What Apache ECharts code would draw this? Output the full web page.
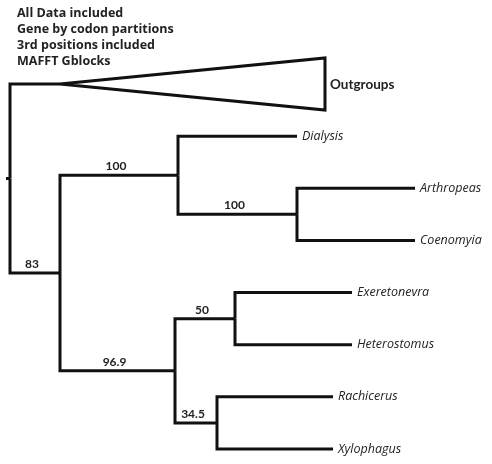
<!DOCTYPE html>
<html>
<head>
<meta charset="utf-8">
<script src="https://cdn.jsdelivr.net/npm/echarts@6/dist/echarts.min.js"></script>
<style>
  html, body { margin: 0; padding: 0; background: #ffffff; }
  #chart { width: 492px; height: 464px; }
</style>
</head>
<body>
<div id="chart"></div>
<script>
// Analysis settings shown as a heading
const headingLines = ['All Data included', 'Gene by codon partitions', '3rd positions included', 'MAFFT Gblocks'];

// Tree topology: each node, its parent, branch length and bootstrap support
const nodeNames     = ['root', 'Outgroups', 'n83', 'n100a', 'Dialysis', 'n100b', 'Arthropeas', 'Coenomyia',
                       'n96.9', 'n50', 'Exeretonevra', 'Heterostomus', 'n34.5', 'Rachicerus', 'Xylophagus'];
const parentNames   = [null, 'root', 'root', 'n83', 'n100a', 'n100a', 'n100b', 'n100b',
                       'n83', 'n96.9', 'n50', 'n50', 'n96.9', 'n34.5', 'n34.5'];
const branchLengths = [4, 50, 50, 118, 119, 119, 118, 118,
                       115, 60, 117, 117, 42, 116, 116];
const supportValues = [null, null, '83', '100', null, '100', null, null,
                       '96.9', '50', null, null, '34.5', null, null];
// Tips in drawing order, top to bottom
const tipOrder = ['Outgroups', 'Dialysis', 'Arthropeas', 'Coenomyia', 'Exeretonevra', 'Heterostomus', 'Rachicerus', 'Xylophagus'];
// Collapsed clades: depth of the triangle beyond its stem
const collapsedNames  = ['Outgroups'];
const collapsedDepths = [265];

// Lay out the tree: x = cumulative branch length, y = tip slot or mean of children
const idx = {};
nodeNames.forEach((n, i) => { idx[n] = i; });
const children = nodeNames.map(() => []);
parentNames.forEach((p, i) => { if (p !== null) children[idx[p]].push(i); });
const nodeX = new Array(nodeNames.length);
const nodeY = new Array(nodeNames.length);
function placeX(i, base) {
  nodeX[i] = base + branchLengths[i];
  children[i].forEach(c => placeX(c, nodeX[i]));
}
function placeY(i) {
  if (children[i].length === 0) {
    nodeY[i] = tipOrder.indexOf(nodeNames[i]);
  } else {
    const ys = children[i].map(placeY);
    nodeY[i] = ys.reduce((a, b) => a + b, 0) / ys.length;
  }
  return nodeY[i];
}
placeX(0, 0);
placeY(0);

const seriesData = nodeNames.map((n, i) => {
  const p = parentNames[i] === null ? -1 : idx[parentNames[i]];
  const ci = collapsedNames.indexOf(n);
  return {
    name: n,
    value: [nodeX[i], nodeY[i], p === -1 ? 0 : nodeX[p], p === -1 ? nodeY[i] : nodeY[p],
            ci >= 0 ? collapsedDepths[ci] : 0, children[i].length === 0 ? 1 : 0],
    support: supportValues[i]
  };
});

const LINE = '#111111';
const TEXT = '#222222';
const FONT = 'Lato, "Open Sans", sans-serif';
const TIP_FONT = '"Open Sans", Lato, sans-serif';

function renderItem(params, api) {
  const d = seriesData[params.dataIndex];
  const x = api.value(0), y = api.value(1), px = api.value(2), py = api.value(3);
  const depth = api.value(4), isTip = api.value(5) === 1;
  const pEnd = api.coord([x, y]);
  const pCorner = api.coord([px, y]);
  const pStart = api.coord([px, py]);
  const kids = [];
  kids.push({
    type: 'polyline',
    shape: { points: [pStart, pCorner, pEnd] },
    style: { stroke: LINE, lineWidth: 3, fill: null, lineJoin: 'miter' }
  });
  let labelX = pEnd[0];
  let bold = false;
  if (depth > 0) {
    const top = api.coord([x + depth, y - 0.5]);
    const bot = api.coord([x + depth, y + 0.5]);
    kids.push({
      type: 'polygon',
      shape: { points: [pEnd, top, bot] },
      style: { stroke: LINE, lineWidth: 3, fill: null, lineJoin: 'miter' }
    });
    labelX = top[0];
    bold = true;
  }
  if (isTip) {
    kids.push({
      type: 'text',
      style: {
        text: d.name, x: labelX + 5, y: pEnd[1] + (bold ? 1 : 0),
        fill: TEXT, font: bold ? 'bold 13.5px ' + FONT : 'italic 12.5px ' + TIP_FONT,
        textAlign: 'left', textVerticalAlign: 'middle'
      }
    });
  }
  if (d.support) {
    kids.push({
      type: 'text',
      style: {
        text: d.support, x: (pCorner[0] + pEnd[0]) / 2 - 3, y: pEnd[1] - 3,
        fill: TEXT, font: 'bold 12px ' + FONT,
        textAlign: 'center', textVerticalAlign: 'bottom'
      }
    });
  }
  return { type: 'group', children: kids };
}

const chart = echarts.init(document.getElementById('chart'));
chart.setOption({
  animation: false,
  backgroundColor: '#ffffff',
  title: {
    text: headingLines.join('\n'),
    left: 17, top: 5, padding: 0,
    textStyle: { fontFamily: TIP_FONT, fontWeight: 'bold', fontSize: 12.5, lineHeight: 16, color: TEXT }
  },
  grid: { left: 6, right: 6, top: 84, bottom: 15 },
  xAxis: { type: 'value', min: 0, max: 480, show: false },
  yAxis: { type: 'value', min: 0, max: 7, inverse: true, show: false },
  series: [{
    type: 'custom',
    renderItem: renderItem,
    data: seriesData.map(d => d.value),
    clip: false
  }]
});
</script>
</body>
</html>
